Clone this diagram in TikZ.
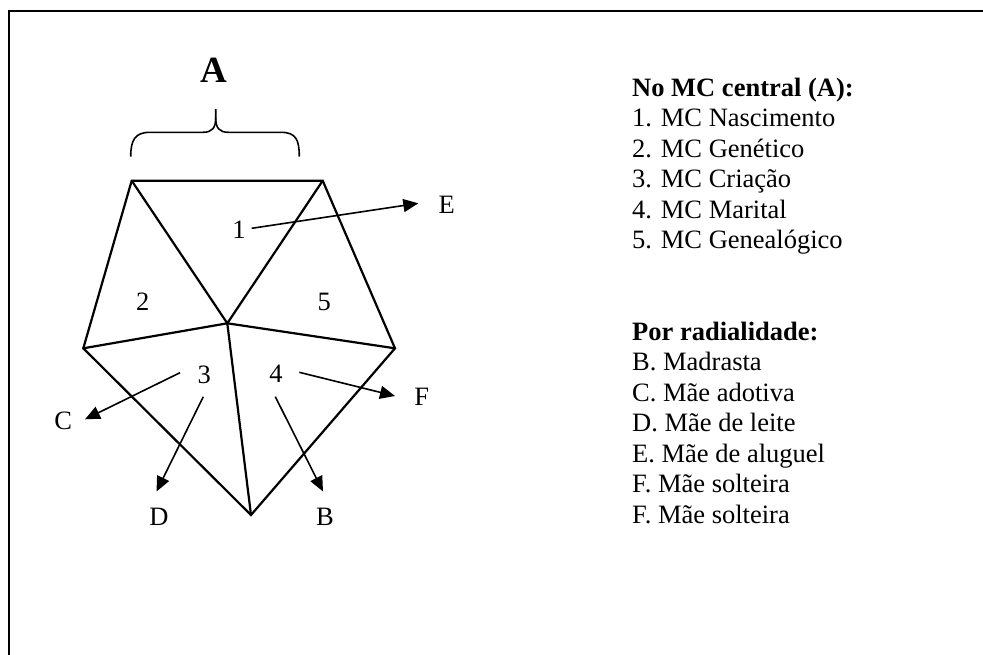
\documentclass[tikz,border=0pt]{standalone}
\usepackage{fontspec}
\setmainfont{Liberation Serif}
\usetikzlibrary{arrows.meta}
\begin{document}
\begin{tikzpicture}[x=1pt,y=-1pt,
  edge/.style={line width=2.2pt, line join=miter, line cap=round},
  arr/.style={line width=1.6pt, -{Triangle[length=15pt,width=13pt]}},
  lbl/.style={inner sep=0pt, font=\fontsize{26.5}{30.5}\selectfont},
  txt/.style={inner sep=0pt, anchor=base west, font=\fontsize{26.5}{30.5}\selectfont},
  bracestyle/.style={line width=1.6pt},
]
\useasboundingbox (0,0) rectangle (983,654);
\clip (0,0) rectangle (983,654);
% frame
\coordinate (fb) at (9,720);
\coordinate (fc) at (9,11);
\coordinate (fr) at (1020,11);
\draw[line width=2.3pt] (fb) -- (fc) -- (fr);

% pentagon
\coordinate (TL) at (131.7,180.7);
\coordinate (TR) at (322.7,180.7);
\coordinate (R) at (395,348.3);
\coordinate (Bt) at (251,515);
\coordinate (L) at (83.3,348.3);
\coordinate (O) at (227.3,323.3);
\draw[edge] (TL) -- (TR) -- (R) -- (Bt) -- (L) -- cycle;
\draw[edge] (TL) -- (O) -- (TR);
\draw[edge] (L) -- (O) -- (R);
\draw[edge] (O) -- (Bt);

% brace and A
\node[inner sep=0pt, font=\fontsize{37}{40}\selectfont\bfseries] (A) at (214,70) {A};
\coordinate (bl) at (130.7,156.7);
\coordinate (br) at (299.3,156.7);
\coordinate (bt) at (215.7,109);
\draw[bracestyle] (bl) .. controls (130.7,140) and (135,132.3) .. (150,132.3) -- (203,132.3)
  .. controls (212,132.3) and (215.7,128) .. (215.7,118) -- (bt);
\draw[bracestyle] (215.7,118) .. controls (215.7,128) and (219.4,132.3) .. (228.4,132.3) -- (281,132.3)
  .. controls (296,132.3) and (299.3,140) .. (br);

% region numbers
\node[lbl] (n1) at (239,230) {1};
\node[lbl] (n2) at (142.7,301.7) {2};
\node[lbl] (n5) at (324.3,301.7) {5};
\node[lbl] (n3) at (204.3,375) {3};
\node[lbl] (n4) at (276,374) {4};

% outer letters
\node[lbl] (E) at (446.7,205) {E};
\node[lbl] (C) at (63.3,420.5) {C};
\node[lbl] (D) at (159,517) {D};
\node[lbl] (F) at (421.7,397) {F};
\node[lbl] (B) at (325,517) {B};

% arrows
\coordinate (s1) at (251.7,228.3);  \coordinate (tE) at (418.3,203.3);
\coordinate (s3c) at (180,372.7);   \coordinate (tC) at (85,419.3);
\coordinate (s3d) at (203.3,396.7); \coordinate (tD) at (156.5,491.5);
\coordinate (s4f) at (299.3,372.3); \coordinate (tF) at (395,396);
\coordinate (s4b) at (275.3,396.7); \coordinate (tB) at (323,491.5);
\draw[arr] (s1) -- (tE);
\draw[arr] (s3c) -- (tC);
\draw[arr] (s3d) -- (tD);
\draw[arr] (s4f) -- (tF);
\draw[arr] (s4b) -- (tB);

% legend
\node[txt] (h1) at (632,96) {\textbf{No MC central (A):}};
\node[txt] (l1) at (632,126.5) {1. MC Nascimento};
\node[txt] (l2) at (632,157) {2. MC Genético};
\node[txt] (l3) at (632,187.5) {3. MC Criação};
\node[txt] (l4) at (632,218) {4. MC Marital};
\node[txt] (l5) at (632,248.5) {5. MC Genealógico};
\node[txt] (h2) at (632,340) {\textbf{Por radialidade:}};
\node[txt] (r1) at (632,370.5) {B. Madrasta};
\node[txt] (r2) at (632,401) {C. Mãe adotiva};
\node[txt] (r3) at (632,431.5) {D. Mãe de leite};
\node[txt] (r4) at (632,462) {E. Mãe de aluguel};
\node[txt] (r5) at (632,492.5) {F. Mãe solteira};
\node[txt] (r6) at (632,523) {F. Mãe solteira};
\end{tikzpicture}
\end{document}
